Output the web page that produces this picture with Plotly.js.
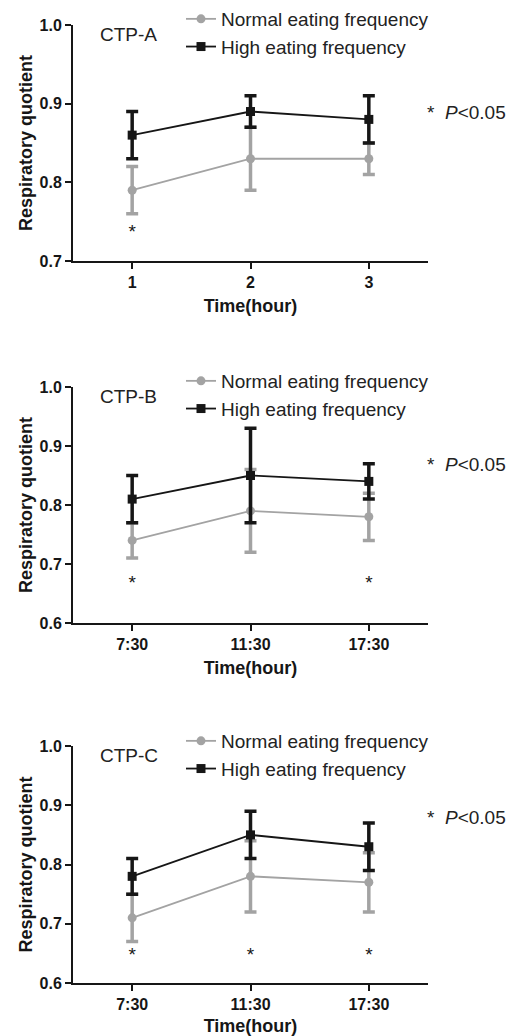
<!DOCTYPE html>
<html><head><meta charset="utf-8">
<script src="https://cdn.plot.ly/plotly-3.0.1.min.js"></script>
<style>html,body{margin:0;padding:0;background:#fff}#chart{width:515px;height:1036px}</style>
</head><body><div id="chart"></div>
<script>
// ---- data ----
const categoriesA = ["1", "2", "3"];
const categoriesBC = ["7:30", "11:30", "17:30"];
const seriesNames = ["Normal eating frequency", "High eating frequency"];
const panelLabels = ["CTP-A", "CTP-B", "CTP-C"];
const xTitle = "Time(hour)";
const yTitle = "Respiratory quotient";
const sigLabel = "*  <i>P</i>&lt;0.05";

const normalA = [0.79, 0.83, 0.83];
const normalAErr = [0.03, 0.04, 0.02];
const highA = [0.86, 0.89, 0.88];
const highAErr = [0.03, 0.02, 0.03];

const normalB = [0.74, 0.79, 0.78];
const normalBErr = [0.03, 0.07, 0.04];
const highB = [0.81, 0.85, 0.84];
const highBErr = [0.04, 0.08, 0.03];

const normalC = [0.71, 0.78, 0.77];
const normalCErr = [0.04, 0.06, 0.05];
const highC = [0.78, 0.85, 0.83];
const highCErr = [0.03, 0.04, 0.04];

const sigA = [true, false, false];
const sigB = [true, false, true];
const sigC = [true, true, true];

// ---- layout helpers ----
const W = 515, H = 1036;
const px = x => x / W;
const py = y => 1 - y / H;
const FONT = "Liberation Sans, Arial, sans-serif";
const GRAY = "#a3a3a3";
const BLACK = "#161616";

const panels = [
  {cats: categoriesA, n: normalA, ne: normalAErr, h: highA, he: highAErr, sig: sigA, top: 25, bot: 261, yr: [0.7, 1.0], starY: 0.735, pY: 113, legY: 0},
  {cats: categoriesBC, n: normalB, ne: normalBErr, h: highB, he: highBErr, sig: sigB, top: 387, bot: 623, yr: [0.6, 1.0], starY: 0.666, pY: 465, legY: 362},
  {cats: categoriesBC, n: normalC, ne: normalCErr, h: highC, he: highCErr, sig: sigC, top: 746, bot: 983, yr: [0.6, 1.0], starY: 0.645, pY: 817, legY: 722}
];

const traces = [];
const layout = {
  width: W, height: H,
  margin: {l: 0, r: 0, t: 0, b: 0},
  paper_bgcolor: "#fff", plot_bgcolor: "#fff",
  font: {family: FONT, color: BLACK},
  annotations: []
};

panels.forEach((p, i) => {
  const sfx = i === 0 ? "" : String(i + 1);
  const xa = "x" + sfx, ya = "y" + sfx;
  const leg = "legend" + sfx;
  traces.push({
    type: "scatter", mode: "lines+markers", name: seriesNames[0],
    x: p.cats, y: p.n, xaxis: xa, yaxis: ya, legend: leg, legendgroup: "n" + i,
    line: {color: GRAY, width: 1.8},
    marker: {symbol: "circle", size: 9, color: GRAY},
    error_y: {type: "data", array: p.ne, visible: true, color: GRAY, thickness: 3.5, width: 6}
  });
  traces.push({
    type: "scatter", mode: "lines+markers", name: seriesNames[1],
    x: p.cats, y: p.h, xaxis: xa, yaxis: ya, legend: leg, legendgroup: "h" + i,
    line: {color: BLACK, width: 1.8},
    marker: {symbol: "square", size: 9, color: BLACK},
    error_y: {type: "data", array: p.he, visible: true, color: BLACK, thickness: 3.5, width: 6}
  });
  const sx = p.cats.filter((c, k) => p.sig[k]);
  traces.push({
    type: "scatter", mode: "text", x: sx, y: sx.map(() => p.starY),
    text: sx.map(() => "*"), textfont: {size: 19, color: BLACK, family: FONT},
    xaxis: xa, yaxis: ya, showlegend: false, hoverinfo: "skip"
  });

  layout["xaxis" + sfx] = {
    domain: [px(73), px(428)], anchor: ya, type: "category", range: [-0.5, 2.5],
    showline: true, linecolor: BLACK, linewidth: 2, showgrid: false, zeroline: false,
    ticks: "outside", ticklen: 6, tickwidth: 2, tickcolor: BLACK,
    tickfont: {size: 16, weight: "bold", family: FONT, color: BLACK},
    title: {text: xTitle, font: {size: 18, weight: "bold", family: FONT, color: BLACK}, standoff: 9},
    fixedrange: true
  };
  layout["yaxis" + sfx] = {
    domain: [py(p.bot), py(p.top)], anchor: xa, range: p.yr, dtick: 0.1, tickformat: ".1f",
    showline: true, linecolor: BLACK, linewidth: 2, showgrid: false, zeroline: false,
    ticks: "outside", ticklen: 6, tickwidth: 2, tickcolor: BLACK,
    tickfont: {size: 16, weight: "bold", family: FONT, color: BLACK},
    title: {text: yTitle, font: {size: 18, weight: "bold", family: FONT, color: BLACK}, standoff: 2},
    fixedrange: true
  };
  layout[leg] = {
    x: px(181), xanchor: "left", y: py(p.legY), yanchor: "top",
    bgcolor: "rgba(0,0,0,0)", borderwidth: 0,
    font: {size: 19, family: FONT, color: "#222"},
    traceorder: "grouped", tracegroupgap: 0
  };
  layout.annotations.push({
    xref: "paper", yref: "paper", x: px(98), y: py(p.top + 9), xanchor: "left", yanchor: "middle",
    text: panelLabels[i], showarrow: false, font: {size: 19, family: FONT, color: "#222"}
  });
  layout.annotations.push({
    xref: "paper", yref: "paper", x: px(425), y: py(p.pY), xanchor: "left", yanchor: "middle",
    text: sigLabel, showarrow: false, font: {size: 19, family: FONT, color: "#222"}
  });
});

Plotly.newPlot("chart", traces, layout, {staticPlot: true, displayModeBar: false});
</script>
</body></html>
